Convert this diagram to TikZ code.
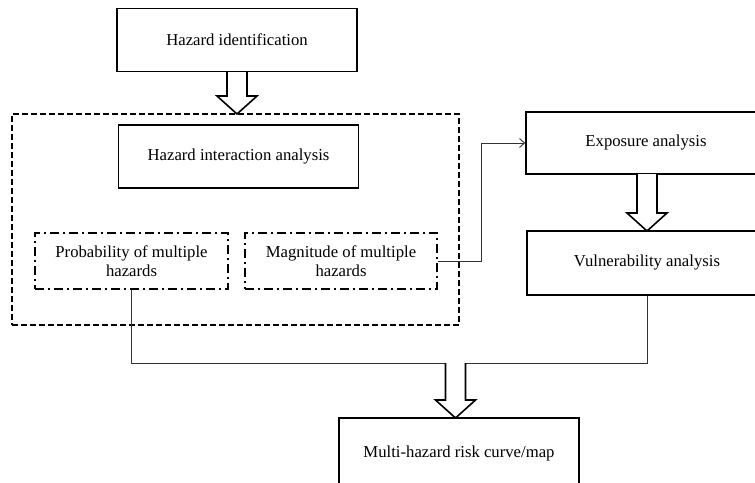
\documentclass[tikz,border=0pt]{standalone}
\usepackage{fontspec}
\setmainfont{Liberation Serif}
\usetikzlibrary{arrows.meta}

\tikzset{
  box/.style={draw, line width=1.6pt, minimum width=240pt, minimum height=63pt,
    align=center, inner sep=0pt, font=\fontsize{16.7}{19.5}\selectfont},
  subbox/.style={box, line width=1.4pt, minimum width=193pt, minimum height=56pt,
    dash pattern=on 9pt off 4pt on 2pt off 4pt},
  frame/.style={draw, line width=1.4pt, dash pattern=on 6pt off 3pt},
  link/.style={line width=0.9pt, draw=black!80},
  fatarrow/.style={draw, line width=1.6pt, fill=white}
}

\begin{document}
\begin{tikzpicture}[x=1pt, y=-1pt]
  \clip (0,0) rectangle (755,482);
  \fill[white] (0,0) rectangle (755,482);

  % left column
  \node[box] (hazid) at (237,40) {Hazard identification};
  \node[frame, minimum width=447pt, minimum height=211pt] (group) at (235.5,219.5) {};
  \node[box] (interact) at (238.5,156.5) {Hazard interaction analysis};
  \node[subbox] (prob) at (131.5,261) {Probability of multiple\\hazards};
  \node[subbox, minimum width=192pt] (magn) at (341,261) {Magnitude of multiple\\hazards};

  % right column
  \node[box, minimum height=62pt] (expo) at (646,143) {Exposure analysis};
  \node[box, minimum height=64pt] (vuln) at (647,263) {Vulnerability analysis};

  % result
  \node[box, minimum height=70pt] (risk) at (459,453) {Multi-hazard risk curve/map};

  % connectors
  \draw[link, -{Straight Barb[length=5pt, width=9pt]}] (magn.east) -- (481,261) |- (expo.west);
  \draw[link] (prob.south) -- ++(0,74) coordinate (join) -| (vuln.south);

  % hollow arrows
  \foreach \cx/\ya/\yb in {237/72/114, 647/174/231, 455.5/363/418}
    \draw[fatarrow] (\cx-10,\ya) -- (\cx-10,\yb-18) -- (\cx-20,\yb-18) -- (\cx,\yb)
      -- (\cx+20,\yb-18) -- (\cx+10,\yb-18) -- (\cx+10,\ya);
\end{tikzpicture}
\end{document}
